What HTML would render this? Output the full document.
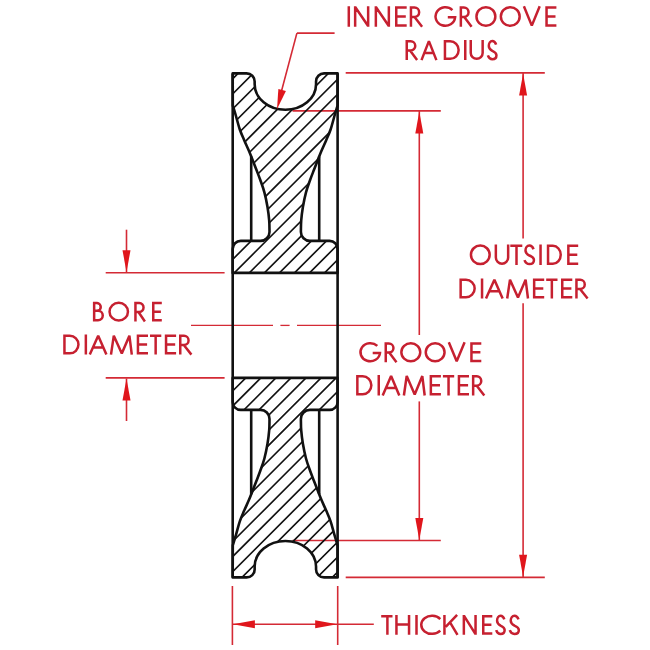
<!DOCTYPE html>
<html><head><meta charset="utf-8"><style>
html,body{margin:0;padding:0;background:#fff;width:650px;height:650px;overflow:hidden}
svg{display:block}
</style></head><body>
<svg width="650" height="650" viewBox="0 0 650 650"><defs><clipPath id="ct"><path d="M232.7 73.4 L246.65 73.4 A8.0 8.0 0 0 1 254.65 81.4 L254.65 84.2 A30.7 25.6 0 0 0 316.05 84.2 L316.05 81.4 A8.0 8.0 0 0 1 324.05 73.4 L337.6 73.4 L337.6 105.5 L337.6 105.5 C337.05 107.33 335.47 112.5 334.3 116.5 C333.13 120.5 331.95 125.55 330.6 129.5 C329.25 133.45 327.73 136.62 326.2 140.2 C324.67 143.78 322.77 147.77 321.4 151 C320.03 154.23 319.23 156.47 318 159.6 C316.77 162.73 315.32 166.4 314 169.8 C312.68 173.2 311.43 176.25 310.1 180 C308.77 183.75 307.2 187.8 306 192.3 C304.8 196.8 303.7 202.28 302.9 207 C302.1 211.72 301.53 216.6 301.2 220.6 C300.87 224.6 300.95 229.27 300.9 231 L300.9 231.9 A9.0 9.0 0 0 0 309.9 240.9 L329.6 240.9 A8.0 8.0 0 0 1 337.6 248.9 L337.6 272.9 L232.7 272.9 L232.7 248.9 A8.0 8.0 0 0 1 240.7 240.9 L260.5 240.9 A9.0 9.0 0 0 0 269.5 231.9 L269.5 231 C269.45 229.27 269.53 224.6 269.2 220.6 C268.87 216.6 268.3 211.72 267.5 207 C266.7 202.28 265.6 196.8 264.4 192.3 C263.2 187.8 261.63 183.75 260.3 180 C258.97 176.25 257.72 173.2 256.4 169.8 C255.08 166.4 253.63 162.73 252.4 159.6 C251.17 156.47 250.37 154.23 249 151 C247.63 147.77 245.73 143.78 244.2 140.2 C242.67 136.62 241.15 133.45 239.8 129.5 C238.45 125.55 237.27 120.5 236.1 116.5 C234.93 112.5 233.35 107.33 232.8 105.5 Z"/></clipPath><clipPath id="cb"><path d="M232.7 577.4 L246.65 577.4 A8.0 8.0 0 0 0 254.65 569.4 L254.65 566.6 A30.7 25.6 0 0 1 316.05 566.6 L316.05 569.4 A8.0 8.0 0 0 0 324.05 577.4 L337.6 577.4 L337.6 545.3 L337.6 545.3 C337.05 543.47 335.47 538.3 334.3 534.3 C333.13 530.3 331.95 525.25 330.6 521.3 C329.25 517.35 327.73 514.18 326.2 510.6 C324.67 507.02 322.77 503.03 321.4 499.8 C320.03 496.57 319.23 494.33 318 491.2 C316.77 488.07 315.32 484.4 314 481 C312.68 477.6 311.43 474.55 310.1 470.8 C308.77 467.05 307.2 463 306 458.5 C304.8 454 303.7 448.52 302.9 443.8 C302.1 439.08 301.53 434.2 301.2 430.2 C300.87 426.2 300.95 421.53 300.9 419.8 L300.9 418.9 A9.0 9.0 0 0 1 309.9 409.9 L329.6 409.9 A8.0 8.0 0 0 0 337.6 401.9 L337.6 377.9 L232.7 377.9 L232.7 401.9 A8.0 8.0 0 0 0 240.7 409.9 L260.5 409.9 A9.0 9.0 0 0 1 269.5 418.9 L269.5 419.8 C269.45 421.53 269.53 426.2 269.2 430.2 C268.87 434.2 268.3 439.08 267.5 443.8 C266.7 448.52 265.6 454 264.4 458.5 C263.2 463 261.63 467.05 260.3 470.8 C258.97 474.55 257.72 477.6 256.4 481 C255.08 484.4 253.63 488.07 252.4 491.2 C251.17 494.33 250.37 496.57 249 499.8 C247.63 503.03 245.73 507.02 244.2 510.6 C242.67 514.18 241.15 517.35 239.8 521.3 C238.45 525.25 237.27 530.3 236.1 534.3 C234.93 538.3 233.35 543.47 232.8 545.3 Z"/></clipPath></defs><rect width="650" height="650" fill="#fff"/><line x1="345.7" y1="72.9" x2="544.8" y2="72.9" stroke="#d42a35" stroke-width="1.6"/><line x1="345.7" y1="577.4" x2="544.8" y2="577.4" stroke="#d42a35" stroke-width="1.6"/><line x1="523.1" y1="73" x2="523.1" y2="238.5" stroke="#d42a35" stroke-width="1.6"/><line x1="523.1" y1="303.3" x2="523.1" y2="577.3" stroke="#d42a35" stroke-width="1.6"/><path d="M523.1 73.6L527.1 95.6L519.1 95.6Z" fill="#e0161c"/><path d="M523.1 576.8L519.1 554.8L527.1 554.8Z" fill="#e0161c"/><line x1="292.5" y1="110.9" x2="440.8" y2="110.9" stroke="#d42a35" stroke-width="1.6"/><line x1="292.5" y1="540.5" x2="440.8" y2="540.5" stroke="#d42a35" stroke-width="1.6"/><line x1="419.3" y1="111" x2="419.3" y2="335" stroke="#d42a35" stroke-width="1.6"/><line x1="419.3" y1="401.4" x2="419.3" y2="540.4" stroke="#d42a35" stroke-width="1.6"/><path d="M419.3 111.5L423.3 133.5L415.3 133.5Z" fill="#e0161c"/><path d="M419.3 540L415.3 518L423.3 518Z" fill="#e0161c"/><line x1="105.7" y1="272.7" x2="224.6" y2="272.7" stroke="#d42a35" stroke-width="1.6"/><line x1="105.7" y1="377.9" x2="224.6" y2="377.9" stroke="#d42a35" stroke-width="1.6"/><line x1="126.5" y1="229.7" x2="126.5" y2="272" stroke="#d42a35" stroke-width="1.6"/><line x1="126.5" y1="378.5" x2="126.5" y2="421" stroke="#d42a35" stroke-width="1.6"/><path d="M126.5 272.2L122.5 250.2L130.5 250.2Z" fill="#e0161c"/><path d="M126.5 378.4L130.5 400.4L122.5 400.4Z" fill="#e0161c"/><line x1="232.4" y1="586" x2="232.4" y2="645" stroke="#d42a35" stroke-width="1.6"/><line x1="337.7" y1="586" x2="337.7" y2="645" stroke="#d42a35" stroke-width="1.6"/><line x1="232.4" y1="624.3" x2="373.8" y2="624.3" stroke="#d42a35" stroke-width="1.6"/><path d="M232.9 624.3L254.9 620.3L254.9 628.3Z" fill="#e0161c"/><path d="M337.2 624.3L315.2 628.3L315.2 620.3Z" fill="#e0161c"/><line x1="296.9" y1="33.1" x2="334.6" y2="33.1" stroke="#d42a35" stroke-width="1.6"/><line x1="296.9" y1="33.1" x2="279.46" y2="98.83" stroke="#d42a35" stroke-width="1.6"/><line x1="191" y1="325.4" x2="273" y2="325.4" stroke="#d42a35" stroke-width="1.3"/><line x1="280.4" y1="325.4" x2="289.6" y2="325.4" stroke="#d42a35" stroke-width="1.3"/><line x1="297" y1="325.4" x2="381" y2="325.4" stroke="#d42a35" stroke-width="1.3"/><g clip-path="url(#ct)"><path d="M231.4 50L-54 335.4M246.45 50L-38.95 335.4M261.5 50L-23.9 335.4M276.55 50L-8.85 335.4M291.6 50L6.2 335.4M306.65 50L21.25 335.4M321.7 50L36.3 335.4M336.75 50L51.35 335.4M351.8 50L66.4 335.4M366.85 50L81.45 335.4M381.9 50L96.5 335.4M396.95 50L111.55 335.4M412 50L126.6 335.4M427.05 50L141.65 335.4M442.1 50L156.7 335.4M457.15 50L171.75 335.4M472.2 50L186.8 335.4M487.25 50L201.85 335.4M502.3 50L216.9 335.4M517.35 50L231.95 335.4M532.4 50L247 335.4M547.45 50L262.05 335.4M562.5 50L277.1 335.4M577.55 50L292.15 335.4M592.6 50L307.2 335.4M607.65 50L322.25 335.4M622.7 50L337.3 335.4" stroke="#111" stroke-width="1.65" fill="none"/></g><g clip-path="url(#cb)"><path d="M233.05 315.4L-51.55 600M248.1 315.4L-36.5 600M263.15 315.4L-21.45 600M278.2 315.4L-6.4 600M293.25 315.4L8.65 600M308.3 315.4L23.7 600M323.35 315.4L38.75 600M338.4 315.4L53.8 600M353.45 315.4L68.85 600M368.5 315.4L83.9 600M383.55 315.4L98.95 600M398.6 315.4L114 600M413.65 315.4L129.05 600M428.7 315.4L144.1 600M443.75 315.4L159.15 600M458.8 315.4L174.2 600M473.85 315.4L189.25 600M488.9 315.4L204.3 600M503.95 315.4L219.35 600M519 315.4L234.4 600M534.05 315.4L249.45 600M549.1 315.4L264.5 600M564.15 315.4L279.55 600M579.2 315.4L294.6 600M594.25 315.4L309.65 600M609.3 315.4L324.7 600M624.35 315.4L339.75 600" stroke="#111" stroke-width="1.65" fill="none"/></g><g fill="none" stroke="#111" stroke-width="2.6" stroke-linejoin="round"><path d="M232.7 73.4 L246.65 73.4 A8.0 8.0 0 0 1 254.65 81.4 L254.65 84.2 A30.7 25.6 0 0 0 316.05 84.2 L316.05 81.4 A8.0 8.0 0 0 1 324.05 73.4 L337.6 73.4 L337.6 105.5 L337.6 105.5 C337.05 107.33 335.47 112.5 334.3 116.5 C333.13 120.5 331.95 125.55 330.6 129.5 C329.25 133.45 327.73 136.62 326.2 140.2 C324.67 143.78 322.77 147.77 321.4 151 C320.03 154.23 319.23 156.47 318 159.6 C316.77 162.73 315.32 166.4 314 169.8 C312.68 173.2 311.43 176.25 310.1 180 C308.77 183.75 307.2 187.8 306 192.3 C304.8 196.8 303.7 202.28 302.9 207 C302.1 211.72 301.53 216.6 301.2 220.6 C300.87 224.6 300.95 229.27 300.9 231 L300.9 231.9 A9.0 9.0 0 0 0 309.9 240.9 L329.6 240.9 A8.0 8.0 0 0 1 337.6 248.9 L337.6 272.9 L232.7 272.9 L232.7 248.9 A8.0 8.0 0 0 1 240.7 240.9 L260.5 240.9 A9.0 9.0 0 0 0 269.5 231.9 L269.5 231 C269.45 229.27 269.53 224.6 269.2 220.6 C268.87 216.6 268.3 211.72 267.5 207 C266.7 202.28 265.6 196.8 264.4 192.3 C263.2 187.8 261.63 183.75 260.3 180 C258.97 176.25 257.72 173.2 256.4 169.8 C255.08 166.4 253.63 162.73 252.4 159.6 C251.17 156.47 250.37 154.23 249 151 C247.63 147.77 245.73 143.78 244.2 140.2 C242.67 136.62 241.15 133.45 239.8 129.5 C238.45 125.55 237.27 120.5 236.1 116.5 C234.93 112.5 233.35 107.33 232.8 105.5 Z"/><path d="M232.7 577.4 L246.65 577.4 A8.0 8.0 0 0 0 254.65 569.4 L254.65 566.6 A30.7 25.6 0 0 1 316.05 566.6 L316.05 569.4 A8.0 8.0 0 0 0 324.05 577.4 L337.6 577.4 L337.6 545.3 L337.6 545.3 C337.05 543.47 335.47 538.3 334.3 534.3 C333.13 530.3 331.95 525.25 330.6 521.3 C329.25 517.35 327.73 514.18 326.2 510.6 C324.67 507.02 322.77 503.03 321.4 499.8 C320.03 496.57 319.23 494.33 318 491.2 C316.77 488.07 315.32 484.4 314 481 C312.68 477.6 311.43 474.55 310.1 470.8 C308.77 467.05 307.2 463 306 458.5 C304.8 454 303.7 448.52 302.9 443.8 C302.1 439.08 301.53 434.2 301.2 430.2 C300.87 426.2 300.95 421.53 300.9 419.8 L300.9 418.9 A9.0 9.0 0 0 1 309.9 409.9 L329.6 409.9 A8.0 8.0 0 0 0 337.6 401.9 L337.6 377.9 L232.7 377.9 L232.7 401.9 A8.0 8.0 0 0 0 240.7 409.9 L260.5 409.9 A9.0 9.0 0 0 1 269.5 418.9 L269.5 419.8 C269.45 421.53 269.53 426.2 269.2 430.2 C268.87 434.2 268.3 439.08 267.5 443.8 C266.7 448.52 265.6 454 264.4 458.5 C263.2 463 261.63 467.05 260.3 470.8 C258.97 474.55 257.72 477.6 256.4 481 C255.08 484.4 253.63 488.07 252.4 491.2 C251.17 494.33 250.37 496.57 249 499.8 C247.63 503.03 245.73 507.02 244.2 510.6 C242.67 514.18 241.15 517.35 239.8 521.3 C238.45 525.25 237.27 530.3 236.1 534.3 C234.93 538.3 233.35 543.47 232.8 545.3 Z"/><path d="M232.7 73.4V577.4M337.6 73.4V577.4"/><path d="M251.2 156.56V240.9M319.2 156.56V240.9M251.2 494.24V409.9M319.2 494.24V409.9"/></g><path d="M277 109.3L278.36 88.97L285.9 90.97Z" fill="#e0161c"/><g fill="none" stroke="#c62030" stroke-width="2.5" stroke-linejoin="miter" stroke-miterlimit="1.6"><g role="img" aria-label="INNER GROOVE RADIUS"><title>INNER GROOVE RADIUS</title><path d="M348.8 6.3 L348.8 26.7M355.15 26.7 L355.15 6.3M368.15 26.7 L368.15 6.3M355.35 7.2 L367.95 25.8M375.85 26.7 L375.85 6.3M388.85 26.7 L388.85 6.3M376.05 7.2 L388.65 25.8M396.25 6.3 L396.25 26.7M395 7.55 L406.7 7.55M395 16.5 L405.8 16.5M395 25.45 L406.7 25.45M410.95 6.3 L410.95 26.7M409.7 7.55L414.47 7.55A4.68 4.68 0 0 1 414.47 16.91L409.7 16.91M414.51 16.91 L422.1 26.7M452.4 10.07A9.8 9.25 0 1 0 455.11 17.3L447.8 17.3M460.85 6.3 L460.85 26.7M459.6 7.55L463.87 7.55A4.68 4.68 0 0 1 463.87 16.91L459.6 16.91M464.28 16.91 L471.6 26.7M476.45 16.5A9.45 9.25 0 1 0 495.35 16.5A9.45 9.25 0 1 0 476.45 16.5M500.85 16.5A9.4 9.25 0 1 0 519.65 16.5A9.4 9.25 0 1 0 500.85 16.5M523.9 6.3 L531.8 25.65 L539.7 6.3M546.55 6.3 L546.55 26.7M545.3 7.55 L556.4 7.55M545.3 16.5 L555.5 16.5M545.3 25.45 L556.4 25.45M406.75 40.1 L406.75 60.1M405.5 41.35L410.68 41.35A4.57 4.57 0 0 1 410.68 50.5L405.5 50.5M410.05 50.5 L417.1 60.1M421.5 60.1 L428.9 41.15 L436.4 60.1M424.31 52.9 L433.55 52.9M444.95 40.1 L444.95 60.1M443.7 41.35L450.16 41.35A8.49 8.75 0 0 1 450.16 58.85L443.7 58.85M465.25 40.1 L465.25 60.1M470.75 40.1L470.75 52.9A5.95 5.95 0 0 0 482.65 52.9L482.65 40.1M496.11 44.68C495.25 41.88 493.7 41 492.32 41C490.26 41 488.8 43.1 488.8 45.9C488.8 48.7 490.43 49.75 492.32 50.8C494.73 51.85 496.45 53.25 496.45 55.18C496.45 57.62 494.73 59.2 492.32 59.2C490.26 59.2 488.71 57.8 487.85 55.35"/></g><g role="img" aria-label="OUTSIDE DIAMETER"><title>OUTSIDE DIAMETER</title><path d="M470.95 254.8A9.35 9.25 0 1 0 489.65 254.8A9.35 9.25 0 1 0 470.95 254.8M495.85 244.6L495.85 257.6A6.15 6.15 0 0 0 508.15 257.6L508.15 244.6M510.3 245.85 L522.3 245.85M516.5 245.85 L516.5 265M533.57 249.25C532.62 246.39 530.91 245.49 529.39 245.49C527.11 245.49 525.5 247.64 525.5 250.5C525.5 253.37 527.3 254.44 529.39 255.52C532.05 256.59 533.95 258.02 533.95 259.99C533.95 262.5 532.05 264.11 529.39 264.11C527.11 264.11 525.4 262.68 524.45 260.17M540.55 244.6 L540.55 265M548.05 244.6 L548.05 265M546.8 245.85L552.88 245.85A7.87 8.95 0 0 1 552.88 263.75L546.8 263.75M568.35 244.6 L568.35 265M567.1 245.85 L578.2 245.85M567.1 254.8 L577.3 254.8M567.1 263.75 L578.2 263.75M460.65 278.6 L460.65 298.5M459.4 279.85L465.97 279.85A8.68 8.7 0 0 1 465.97 297.25L459.4 297.25M482.05 278.6 L482.05 298.5M486 298.5 L494.4 279.65 L502.6 298.5M489.19 291.34 L499.48 291.34M507.2 298.5 L510 279.65 L518 297.45 L525.6 279.65 L528 298.5M534.15 278.6 L534.15 298.5M532.9 279.85 L544.2 279.85M532.9 288.55 L543.3 288.55M532.9 297.25 L544.2 297.25M546.2 279.85 L557.5 279.85M551.85 279.85 L551.85 298.5M562.25 278.6 L562.25 298.5M561 279.85 L572.3 279.85M561 288.55 L571.4 288.55M561 297.25 L572.3 297.25M576.45 278.6 L576.45 298.5M575.2 279.85L580.2 279.85A4.55 4.55 0 0 1 580.2 288.95L575.2 288.95M580.01 288.95 L587.6 298.5"/></g><g role="img" aria-label="BORE DIAMETER"><title>BORE DIAMETER</title><path d="M94.15 301.8 L94.15 321.5M92.9 303.05L97.04 303.05A3.91 3.91 0 0 1 97.04 310.86L94.15 310.86M94.15 310.86L98.06 310.86A4.69 4.69 0 0 1 98.06 320.25L92.9 320.25M109.55 311.65A9.2 8.9 0 1 0 127.95 311.65A9.2 8.9 0 1 0 109.55 311.65M135.45 301.8 L135.45 321.5M134.2 303.05L139.25 303.05A4.5 4.5 0 0 1 139.25 312.04L134.2 312.04M138.45 312.04 L144.9 321.5M153.25 301.8 L153.25 321.5M152 303.05 L161.8 303.05M152 311.65 L160.9 311.65M152 320.25 L161.8 320.25M64.45 334.6 L64.45 354.6M63.2 335.85L69.77 335.85A8.68 8.75 0 0 1 69.77 353.35L63.2 353.35M85.85 334.6 L85.85 354.6M89.8 354.6 L98.2 335.65 L106.4 354.6M92.99 347.4 L103.28 347.4M111 354.6 L113.8 335.65 L121.8 353.55 L129.4 335.65 L131.8 354.6M137.95 334.6 L137.95 354.6M136.7 335.85 L148 335.85M136.7 344.6 L147.1 344.6M136.7 353.35 L148 353.35M150 335.85 L161.3 335.85M155.65 335.85 L155.65 354.6M166.05 334.6 L166.05 354.6M164.8 335.85 L176.1 335.85M164.8 344.6 L175.2 344.6M164.8 353.35 L176.1 353.35M180.25 334.6 L180.25 354.6M179 335.85L183.98 335.85A4.57 4.57 0 0 1 183.98 345L179 345M183.81 345 L191.4 354.6"/></g><g role="img" aria-label="GROOVE DIAMETER"><title>GROOVE DIAMETER</title><path d="M377.3 345.91A9.8 9.05 0 1 0 380.01 353L372.7 353M385.75 342.2 L385.75 362.2M384.5 343.45L388.88 343.45A4.57 4.57 0 0 1 388.88 352.6L384.5 352.6M389.18 352.6 L396.5 362.2M401.35 352.2A9.45 9.05 0 1 0 420.25 352.2A9.45 9.05 0 1 0 401.35 352.2M425.75 352.2A9.4 9.05 0 1 0 444.55 352.2A9.4 9.05 0 1 0 425.75 352.2M448.8 342.2 L456.7 361.15 L464.6 342.2M471.45 342.2 L471.45 362.2M470.2 343.45 L481.3 343.45M470.2 352.2 L480.4 352.2M470.2 360.95 L481.3 360.95M357.35 375 L357.35 395.5M356.1 376.25L362.67 376.25A8.68 9 0 0 1 362.67 394.25L356.1 394.25M378.75 375 L378.75 395.5M382.7 395.5 L391.1 376.05 L399.3 395.5M385.89 388.12 L396.19 388.12M403.9 395.5 L406.7 376.05 L414.7 394.45 L422.3 376.05 L424.7 395.5M430.85 375 L430.85 395.5M429.6 376.25 L440.9 376.25M429.6 385.25 L440 385.25M429.6 394.25 L440.9 394.25M442.9 376.25 L454.2 376.25M448.55 376.25 L448.55 395.5M458.95 375 L458.95 395.5M457.7 376.25 L469 376.25M457.7 385.25 L468.1 385.25M457.7 394.25 L469 394.25M473.15 375 L473.15 395.5M471.9 376.25L476.75 376.25A4.71 4.71 0 0 1 476.75 385.66L471.9 385.66M476.71 385.66 L484.3 395.5"/></g><g role="img" aria-label="THICKNESS"><title>THICKNESS</title><path d="M381.2 616.15 L392.5 616.15M387.4 616.15 L387.4 634.8M396.45 614.9 L396.45 634.8M409.05 614.9 L409.05 634.8M396.45 624.55 L409.05 624.55M416.5 614.9 L416.5 634.8M440.25 619.06A10.76 9 0 1 0 440.25 630.64M444.45 614.9 L444.45 634.8M457.1 614.9 L445.7 626.84M450.03 622.3 L457.5 634.8M463.85 634.8 L463.85 614.9M475.55 634.8 L475.55 614.9M464.05 615.8 L475.35 633.9M483.25 614.9 L483.25 634.8M482 616.15 L492.3 616.15M482 624.85 L491.4 624.85M482 633.55 L492.3 633.55M504.31 619.46C503.46 616.67 501.93 615.8 500.57 615.8C498.53 615.8 497.08 617.89 497.08 620.67C497.08 623.46 498.7 624.5 500.57 625.55C502.95 626.59 504.65 627.98 504.65 629.9C504.65 632.33 502.95 633.9 500.57 633.9C498.53 633.9 497 632.51 496.15 630.07M518.49 619.46C517.58 616.67 515.94 615.8 514.48 615.8C512.3 615.8 510.75 617.89 510.75 620.67C510.75 623.46 512.48 624.5 514.48 625.55C517.03 626.59 518.85 627.98 518.85 629.9C518.85 632.33 517.03 633.9 514.48 633.9C512.3 633.9 510.66 632.51 509.75 630.07"/></g></g></svg>
</body></html>
